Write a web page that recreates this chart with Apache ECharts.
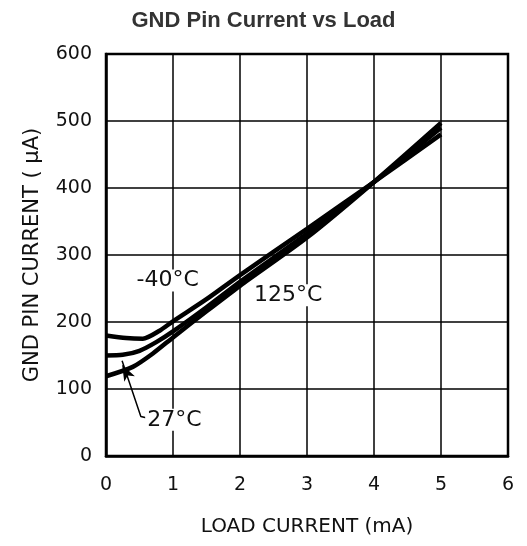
<!DOCTYPE html>
<html><head><meta charset="utf-8">
<script src="https://cdn.jsdelivr.net/npm/echarts@6/dist/echarts.min.js"></script>
<style>html,body{margin:0;padding:0;background:#fff}#c{width:527px;height:546px}</style>
</head><body><div id="c"></div>
<script>
const xTicks = [0,1,2,3,4,5,6];
const yTicks = [0,100,200,300,400,500,600];
const loadM40 = [0,0.3,0.55,0.8,1,1.5,2,3,4,5];
const gndM40  = [180,176,175,187,201,234,270,339,409,480];
const load27  = [0,0.25,0.5,0.75,1,1.5,2,3,4,5];
const gnd27   = [150,151,157,170,186,222,260,332,409,490];
const load125 = [0,0.4,0.7,1,1.5,2,3,4,5];
const gnd125  = [119,133,153,177,216,254,326,409,497];
const labels = [
  {text:'-40°C', at:[0.92,262]},
  {text:'125°C', at:[2.72,240]},
  {text:'27°C', at:[1.02,54]}
];
const leader = [[0.6,57],[0.52,59],[0.24,142]];

const zip = (a,b)=>a.map((v,i)=>[v,b[i]]);
const font = '"DejaVu Sans", sans-serif';
const chart = echarts.init(document.getElementById('c'), null, {renderer:'canvas'});
const lineStyle = {color:'#000', width:4.5};
const mk = (name,d)=>({name, type:'line', data:d, smooth:0.25, showSymbol:false, lineStyle, itemStyle:{color:'#000'}, z:3});
chart.setOption({
  animation:false,
  title:{text:'GND Pin Current vs Load', left:'center', top:5, textStyle:{fontFamily:'"Liberation Sans", Arial, sans-serif', fontWeight:'bold', fontSize:22, color:'#333'}},
  grid:{left:106, right:19, top:54, bottom:90, show:true, borderColor:'#000', borderWidth:2.5},
  xAxis:{type:'value', min:0, max:6, interval:1,
    name:'LOAD CURRENT (mA)', nameLocation:'middle', nameGap:61,
    nameTextStyle:{fontFamily:font, fontSize:20, color:'#111'},
    axisLine:{show:true, lineStyle:{color:'#000', width:2.5}}, axisTick:{show:false},
    axisLabel:{fontFamily:font, fontSize:19, color:'#111', margin:20},
    splitLine:{show:true, lineStyle:{color:'#000', width:1.5}}},
  yAxis:{type:'value', min:0, max:600, interval:100,
    name:'GND PIN CURRENT ( µA)', nameLocation:'middle', nameGap:63, nameRotate:90,
    nameTextStyle:{fontFamily:font, fontSize:21, color:'#111'},
    axisLine:{show:true, lineStyle:{color:'#000', width:2.5}}, axisTick:{show:false},
    axisLabel:{fontFamily:font, fontSize:19, color:'#111', margin:14},
    splitLine:{show:true, lineStyle:{color:'#000', width:1.5}}},
  series:[
    mk('-40°C', zip(loadM40,gndM40)),
    mk('27°C', zip(load27,gnd27)),
    mk('125°C', zip(load125,gnd125)),
    {type:'line', data:leader, showSymbol:false, symbol:'none', lineStyle:{color:'#000', width:1.5}, z:4, silent:true,
     markPoint:{symbol:'arrow', symbolSize:[9,16], symbolRotate:28, data:[{coord:leader[2], symbolOffset:[0,4]}], itemStyle:{color:'#000'}, label:{show:false}}}
  ]
});
const g = labels.map(l=>{
  const p = chart.convertToPixel({gridIndex:0}, l.at);
  return {type:'text', x:p[0], y:p[1], z:10, style:{text:l.text, font:'22px "DejaVu Sans", sans-serif', fill:'#111', align:'center', verticalAlign:'middle', backgroundColor:'#fff', padding:[0,2]}};
});
chart.setOption({graphic:g});
</script></body></html>
